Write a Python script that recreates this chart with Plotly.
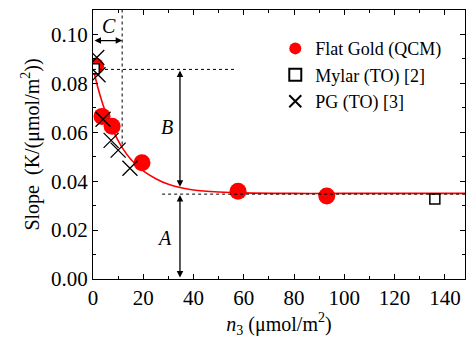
import plotly.graph_objects as go

# ---- data ----
gold_n = [1.0, 3.6, 7.6, 19.5, 57.7, 93.0]
gold_slope = [0.0870, 0.0665, 0.0625, 0.0475, 0.0359, 0.0339]

mylar_n = [0.5, 136.0]
mylar_slope = [0.0860, 0.0327]

pg_n = [1.5, 2.0, 4.0, 7.2, 10.0, 14.7]
pg_slope = [0.0906, 0.0835, 0.0653, 0.0567, 0.0527, 0.0453]

fit_n = [0, 2, 4, 6, 8, 10, 12, 15, 20, 25, 30, 35, 40, 50, 60, 80, 100, 148]
fit_slope = [0.0865, 0.0780, 0.0712, 0.0655, 0.0607, 0.0566, 0.0531, 0.0490,
             0.0442, 0.0410, 0.0387, 0.0373, 0.0364, 0.0356, 0.0352, 0.0350,
             0.0350, 0.0350]

# parameter guide values
A_level = 0.0347
B_top = 0.0857
C_n = 11.6
arrow_n = 34.6

FONT = "Liberation Serif"

fig = go.Figure()

fig.add_trace(go.Scatter(x=fit_n, y=fit_slope, mode="lines", line=dict(color="red", width=1.6, shape="spline"),
                         showlegend=False, hoverinfo="skip"))
fig.add_trace(go.Scatter(x=gold_n, y=gold_slope, mode="markers", name="Flat Gold (QCM)",
                         marker=dict(color="red", size=17, symbol="circle")))
fig.add_trace(go.Scatter(x=mylar_n, y=mylar_slope, mode="markers", name="Mylar (TO) [2]",
                         marker=dict(color="white", size=10, symbol="square",
                                     line=dict(color="black", width=1.5))))
fig.add_trace(go.Scatter(x=pg_n, y=pg_slope, mode="markers", name="PG (TO) [3]",
                         marker=dict(color="black", size=15, symbol="x-thin",
                                     line=dict(color="black", width=1.3))))

# dashed guide lines
dash = dict(color="black", width=1, dash="3px,3px")
fig.add_shape(type="line", x0=0, x1=57, y0=B_top, y1=B_top, line=dash)
fig.add_shape(type="line", x0=27.5, x1=148, y0=A_level, y1=A_level, line=dash)
fig.add_shape(type="line", x0=C_n, x1=C_n, y0=0.055, y1=0.11, line=dash)

def double_arrow(x0, y0, x1, y1):
    fig.add_annotation(x=x1, y=y1, ax=x0, ay=y0, xref="x", yref="y", axref="x", ayref="y",
                       showarrow=True, arrowhead=2, startarrowhead=2, arrowside="end+start",
                       arrowsize=1, arrowwidth=1.3, arrowcolor="black", text="")

double_arrow(arrow_n, 0.0371, arrow_n, B_top - 0.0004)
double_arrow(arrow_n, 0.0, arrow_n, A_level - 0.0004)
double_arrow(0.0, 0.0975, C_n, 0.0975)

for txt, x, y in [("B", 29.5, 0.062), ("A", 28.6, 0.0167), ("C", 6.2, 0.1035)]:
    fig.add_annotation(x=x, y=y, xref="x", yref="y", text="<i>%s</i>" % txt, showarrow=False,
                       font=dict(family=FONT, size=20, color="black"))

axis_common = dict(showline=True, linecolor="black", linewidth=1, mirror="ticks",
                   ticks="inside", ticklen=5, tickwidth=1, tickcolor="black",
                   showgrid=False, zeroline=False, automargin=False,
                   tickfont=dict(family=FONT, size=21, color="black"),
                   minor=dict(ticks="inside", ticklen=3, tickcolor="black", tickwidth=1))

fig.update_xaxes(range=[0, 148], dtick=20, tick0=0, **axis_common,
                 title=dict(text="<i>n</i><sub>3</sub> (μmol/m<sup>2</sup>)", standoff=4,
                            font=dict(family=FONT, size=20, color="black")))
fig.update_xaxes(minor_dtick=10)
fig.update_yaxes(range=[0, 0.11], dtick=0.02, tick0=0, tickformat=".2f", **axis_common,
                 title=dict(text="Slope  (K/(μmol/m<sup>2</sup>))", standoff=6,
                            font=dict(family=FONT, size=20, color="black")))
fig.update_yaxes(minor_dtick=0.01)

fig.update_layout(
    width=467, height=338,
    margin=dict(l=93, r=2, t=10, b=59),
    paper_bgcolor="white", plot_bgcolor="white",
    legend=dict(x=0.49, y=0.925, xanchor="left", yanchor="top", bgcolor="rgba(0,0,0,0)",
                font=dict(family=FONT, size=18, color="black"), itemsizing="constant",
                tracegroupgap=0),
)

fig.write_html("out.html", config={"displayModeBar": False},
               post_script="document.body.style.margin='0px';")
